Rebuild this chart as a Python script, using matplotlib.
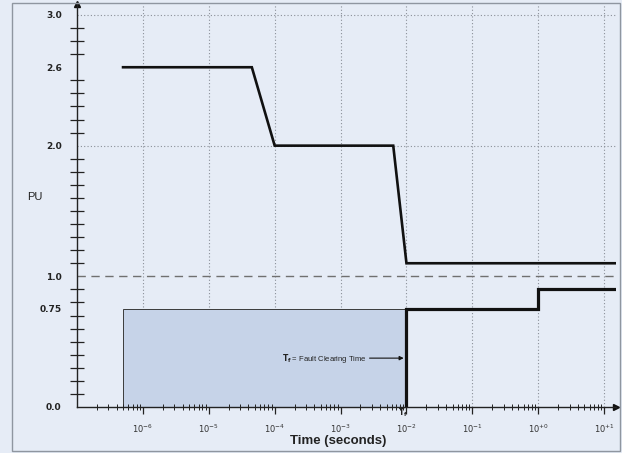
import numpy as np
import matplotlib
matplotlib.use("Agg")
import matplotlib.pyplot as plt
from matplotlib.patches import Rectangle
from matplotlib.ticker import FixedLocator, FixedFormatter, LogLocator, NullFormatter

# Voltage tolerance envelope (per-unit) versus time in seconds
upper_t = [5e-7, 4.5e-5, 1e-4, 6.3e-3, 1e-2, 15.0]
upper_pu = [2.6, 2.6, 2.0, 2.0, 1.1, 1.1]

lower_t = [1e-2, 1e-2, 1.0, 1.0, 15.0]
lower_pu = [0.0, 0.75, 0.75, 0.9, 0.9]

fault_region_t = [5e-7, 1e-2]
fault_region_pu = 0.75
nominal_pu = 1.0
fault_clearing_t = 1e-2

ytick_values = [0.0, 0.75, 1.0, 2.0, 2.6, 3.0]
ytick_labels = ["0.0", "0.75", "1.0", "2.0", "2.6", "3.0"]
xtick_exponents = [-6, -5, -4, -3, -2, -1, 0, 1]
xtick_labels = [r"$10^{-6}$", r"$10^{-5}$", r"$10^{-4}$", r"$10^{-3}$",
                r"$10^{-2}$", r"$10^{-1}$", r"$10^{+0}$", r"$10^{+1}$"]

bg = "#E6ECF6"
fig = plt.figure(figsize=(6.22, 4.53), dpi=100, facecolor=bg)
ax = fig.add_axes([77 / 622, 46 / 453, 539 / 622, 403 / 453])
ax.set_facecolor(bg)
ax.set_xscale("log")
ax.set_xlim(1e-7, 10 ** 1.18)
ax.set_ylim(0, 3.084)

# figure border
fig.patches.append(Rectangle((0.019, 0.004), 0.977, 0.99, transform=fig.transFigure,
                             fill=False, edgecolor="#8f96a0", lw=1.0))

# grid
for e in xtick_exponents:
    ax.axvline(10.0 ** e, color="#8a8f98", lw=0.8, ls=(0, (1, 2)), zorder=1)
for yv in (2.0, 3.0):
    ax.axhline(yv, color="#8a8f98", lw=0.8, ls=(0, (1, 2)), zorder=1)
ax.axhline(nominal_pu, color="#707070", lw=1.0, ls=(0, (6, 4)), zorder=2)

# fault region box
ax.add_patch(Rectangle((fault_region_t[0], 0), fault_region_t[1] - fault_region_t[0],
                       fault_region_pu, facecolor="#C6D3E8", edgecolor="#3a3a3a",
                       lw=0.7, zorder=1.5))

# curves
ax.plot(upper_t, upper_pu, color="#111111", lw=1.9, zorder=4, solid_joinstyle="miter")
ax.plot(lower_t, lower_pu, color="#111111", lw=2.3, zorder=4, solid_joinstyle="miter")

# spines and arrow heads
for s in ("top", "right"):
    ax.spines[s].set_visible(False)
for s in ("left", "bottom"):
    ax.spines[s].set_color("#222222")
    ax.spines[s].set_linewidth(1.0)
ax.plot([0], [1], marker="^", color="#111111", markersize=4, transform=ax.transAxes, clip_on=False)
ax.plot([1], [0], marker=">", color="#111111", markersize=4, transform=ax.transAxes, clip_on=False)

# y ticks
ax.yaxis.set_major_locator(FixedLocator(ytick_values))
ax.yaxis.set_major_formatter(FixedFormatter(ytick_labels))
ax.yaxis.set_minor_locator(FixedLocator(np.round(np.arange(0, 3.01, 0.1), 2)))
ax.tick_params(axis="y", which="major", length=0, pad=11, labelsize=6.5, labelcolor="#222222")
ax.tick_params(axis="y", which="minor", direction="inout", length=10, width=0.9, color="#222222")
for lab in ax.get_yticklabels():
    lab.set_fontweight("bold")

# x ticks
ax.xaxis.set_major_locator(FixedLocator([10.0 ** e for e in xtick_exponents]))
ax.xaxis.set_major_formatter(FixedFormatter(xtick_labels))
ax.xaxis.set_minor_locator(LogLocator(base=10, subs=np.arange(2, 10), numticks=20))
ax.xaxis.set_minor_formatter(NullFormatter())
ax.tick_params(axis="x", which="major", direction="out", length=5, width=0.9,
               pad=6, labelsize=6, labelcolor="#333333", color="#222222")
ax.tick_params(axis="x", which="minor", direction="inout", length=5, width=0.7, color="#222222")

# labels
ax.text(-0.078, 1.61, "PU", transform=ax.get_yaxis_transform(), fontsize=8,
        ha="center", va="center", family="Liberation Sans", color="#222222")
fig.text(338 / 622, 1 - 441 / 453, "Time (seconds)", fontsize=9.5, fontweight="bold",
         ha="center", va="center", family="Liberation Sans", color="#222222")

# fault clearing annotation
ax.text(1.3e-4, 0.374, r"$\mathbf{T_f}$ = Fault Clearing Time", fontsize=5.5,
        ha="left", va="center", family="Liberation Sans", color="#222222")
ax.annotate("", xy=(fault_clearing_t, 0.374), xytext=(2.5e-3, 0.374),
            arrowprops=dict(arrowstyle="-|>", lw=0.8, color="#111111", mutation_scale=6))
ax.text(10 ** -2.06, -0.045, r"$\mathbf{T_f}$", fontsize=5.5, ha="center", va="center",
        color="#222222")

fig.savefig("out.png", dpi=100, facecolor=bg)
